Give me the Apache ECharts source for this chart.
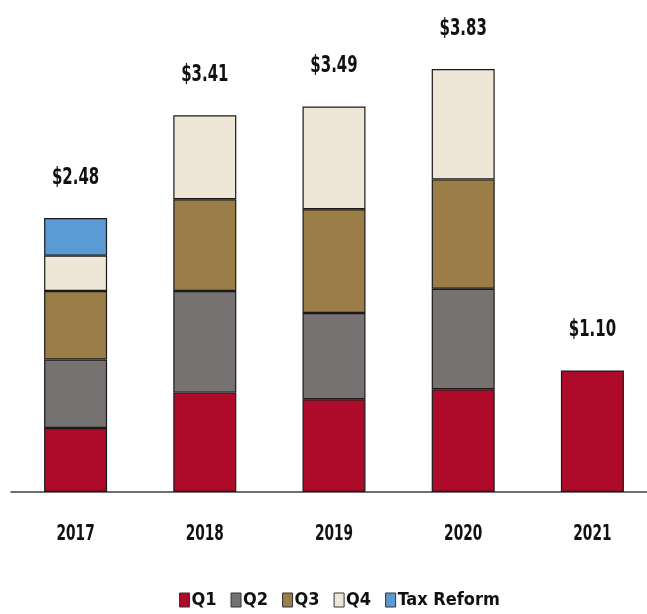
<!DOCTYPE html>
<html>
<head>
<meta charset="utf-8">
<script src="https://cdn.jsdelivr.net/npm/echarts@6/dist/echarts.min.js"></script>
<style>html,body{margin:0;padding:0;background:#fff}#c{width:647px;height:614px}</style>
</head>
<body>
<div id="c"></div>
<script>
var years = ['2017', '2018', '2019', '2020', '2021'];
var q1 = [0.58, 0.90, 0.84, 0.93, 1.10];
var q2 = [0.62, 0.92, 0.78, 0.91, null];
var q3 = [0.62, 0.83, 0.94, 0.99, null];
var q4 = [0.32, 0.76, 0.93, 1.00, null];
var taxReform = [0.34, null, null, null, null];
var totals = [2.48, 3.41, 3.49, 3.83, 1.10];
var totalLabels = ['$2.48', '$3.41', '$3.49', '$3.83', '$1.10'];

var FONT = "'DejaVu Sans Condensed', 'DejaVu Sans', sans-serif";
var colors = {Q1: '#AE0A29', Q2: '#767272', Q3: '#9B7D48', Q4: '#EEE6D6', 'Tax Reform': '#5B9BD5'};

function barSeries(name, data) {
  return {
    name: name, type: 'bar', stack: 'eps', data: data, barWidth: 63,
    itemStyle: {color: colors[name], borderColor: '#1a1a1a', borderWidth: 1.2},
    emphasis: {disabled: true}
  };
}

function textSeries(points, texts, dy, fontSize, sx) {
  return {
    type: 'custom', silent: true, data: points,
    renderItem: function (params, api) {
      var pt = api.coord([api.value(0), api.value(1)]);
      return {
        type: 'text', x: pt[0], y: pt[1] + dy, scaleX: sx,
        style: {
          text: texts[params.dataIndex],
          font: 'bold ' + fontSize + 'px "DejaVu Sans", sans-serif',
          fill: '#111', align: 'center', verticalAlign: 'middle'
        }
      };
    }
  };
}

var totalPoints = years.map(function (y, i) { return [i, totals[i]]; });
var basePoints = years.map(function (y, i) { return [i, 0]; });

var chart = echarts.init(document.getElementById('c'));
chart.setOption({
  animation: false,
  legend: {
    bottom: 0, left: 174,
    data: ['Q1', 'Q2', 'Q3', 'Q4', 'Tax Reform'],
    icon: 'rect', itemWidth: 10, itemHeight: 14, itemGap: 14,
    itemStyle: {borderColor: '#333', borderWidth: 1},
    textStyle: {fontFamily: FONT, fontSize: 18, fontWeight: 'bold', color: '#111', padding: [0, 0, 0, -3]}
  },
  grid: {left: 11, right: -10, top: 6, bottom: 122, containLabel: false, outerBoundsMode: 'none'},
  xAxis: {
    type: 'category', data: years,
    axisLine: {lineStyle: {color: '#404040', width: 1.5}},
    axisTick: {show: false},
    axisLabel: {show: false}
  },
  yAxis: {type: 'value', min: 0, max: 4.4, show: false, splitLine: {show: false}},
  series: [
    barSeries('Q1', q1),
    barSeries('Q2', q2),
    barSeries('Q3', q3),
    barSeries('Q4', q4),
    barSeries('Tax Reform', taxReform),
    textSeries(totalPoints, totalLabels, -40, 23, 0.65),
    textSeries(basePoints, years, 43, 20.5, 0.67)
  ]
});
</script>
</body>
</html>
